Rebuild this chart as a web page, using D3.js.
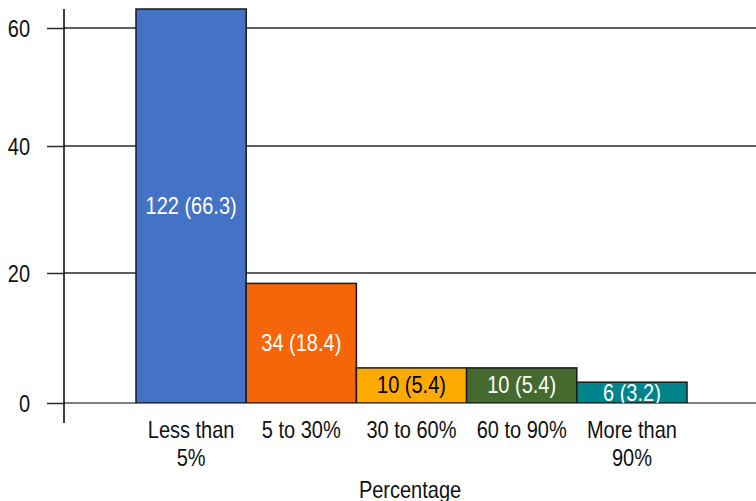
<!DOCTYPE html>
<html>
<head>
<meta charset="utf-8">
<script src="https://cdn.jsdelivr.net/npm/d3@7"></script>
<style>
  html, body { margin: 0; padding: 0; background: #fff; }
  svg text { font-family: "Liberation Sans", Arial, Helvetica, sans-serif; font-size: 20px; }
</style>
</head>
<body>
<svg id="chart" width="756" height="501"></svg>
<script>
// Share of respondents per percentage band
const categories = ["Less than 5%", "5 to 30%", "30 to 60%", "60 to 90%", "More than 90%"];
const categoryLines = [["Less than", "5%"], ["5 to 30%"], ["30 to 60%"], ["60 to 90%"], ["More than", "90%"]];
const counts = [122, 34, 10, 10, 6];
const percents = [66.3, 18.4, 5.4, 5.4, 3.2];
const barColors = ["#4472C4", "#F5650A", "#FFAA00", "#446A2E", "#00848C"];
const labelColors = ["#ffffff", "#ffffff", "#000000", "#ffffff", "#ffffff"];
const yTicks = [0, 20, 40, 60];
const xTitle = "Percentage";

const svg = d3.select("#chart");
const W = 756, H = 501;
const axisX = 64, plotTop = 9, plotRight = W;
const stretch = "scale(1,1.16)";

const x = d3.scaleBand().domain(categories).range([136, 687]).padding(0);
const y = d3.scaleLinear().domain([0, 20, 40, 60]).range([403, 273, 146, 28]);

// Grid lines
svg.append("g")
  .selectAll("line")
  .data(yTicks)
  .join("line")
  .attr("x1", axisX).attr("x2", plotRight)
  .attr("y1", d => y(d)).attr("y2", d => y(d))
  .attr("stroke", d => d === 0 ? "#555" : "#2a2a2a")
  .attr("stroke-width", 1.5);

// Y axis ticks and labels
const yAxis = svg.append("g")
  .attr("transform", `translate(${axisX},0)`)
  .call(d3.axisLeft(y).tickValues(yTicks).tickSize(17).tickPadding(17).tickFormat(d3.format("d")));
yAxis.select(".domain").remove();
yAxis.selectAll(".tick line").attr("stroke", "#2a2a2a").attr("stroke-width", 1.5);
yAxis.selectAll(".tick text")
  .attr("font-size", 20)
  .attr("font-family", "Liberation Sans, Arial, sans-serif")
  .attr("fill", "#111")
  .attr("dy", null)
  .attr("x", null)
  .attr("transform", `translate(-34,0) ${stretch}`)
  .attr("dominant-baseline", "central");

// Vertical axis line
svg.append("line")
  .attr("x1", axisX).attr("x2", axisX)
  .attr("y1", plotTop).attr("y2", 423)
  .attr("stroke", "#000").attr("stroke-width", 1.5);

// Plot clip
svg.append("clipPath").attr("id", "plotClip")
  .append("rect").attr("x", axisX).attr("y", plotTop - 1)
  .attr("width", plotRight - axisX).attr("height", y(0) - plotTop + 1);

const bars = categories.map((c, i) => ({ c, count: counts[i], pct: percents[i], color: barColors[i], lc: labelColors[i] }));
const topOf = d => Math.max(y(d.pct), plotTop);

const plot = svg.append("g").attr("clip-path", "url(#plotClip)");

plot.selectAll("rect.bar")
  .data(bars)
  .join("rect")
  .attr("class", "bar")
  .attr("x", d => x(d.c))
  .attr("width", x.bandwidth())
  .attr("y", d => topOf(d))
  .attr("height", d => y(0) - topOf(d))
  .attr("fill", d => d.color)
  .attr("stroke", "#1a1a1a")
  .attr("stroke-width", 1.5);

plot.selectAll("text.val")
  .data(bars)
  .join("text")
  .attr("class", "val")
  .attr("text-anchor", "middle")
  .attr("dominant-baseline", "central")
  .attr("fill", d => d.lc)
  .attr("transform", d => `translate(${x(d.c) + x.bandwidth() / 2},${(topOf(d) + y(0)) / 2}) ${stretch}`)
  .text(d => `${d.count} (${d.pct})`);

// Category labels
const xl = svg.append("g");
categories.forEach((c, i) => {
  categoryLines[i].forEach((line, j) => {
    xl.append("text")
      .attr("text-anchor", "middle")
      .attr("dominant-baseline", "central")
      .attr("fill", "#111")
      .attr("transform", `translate(${x(c) + x.bandwidth() / 2},${430 + j * 28}) ${stretch}`)
      .text(line);
  });
});

// Axis title
svg.append("text")
  .attr("text-anchor", "middle")
  .attr("dominant-baseline", "central")
  .attr("fill", "#111")
  .attr("transform", `translate(${(axisX + W) / 2},490) ${stretch}`)
  .text(xTitle);
</script>
</body>
</html>
